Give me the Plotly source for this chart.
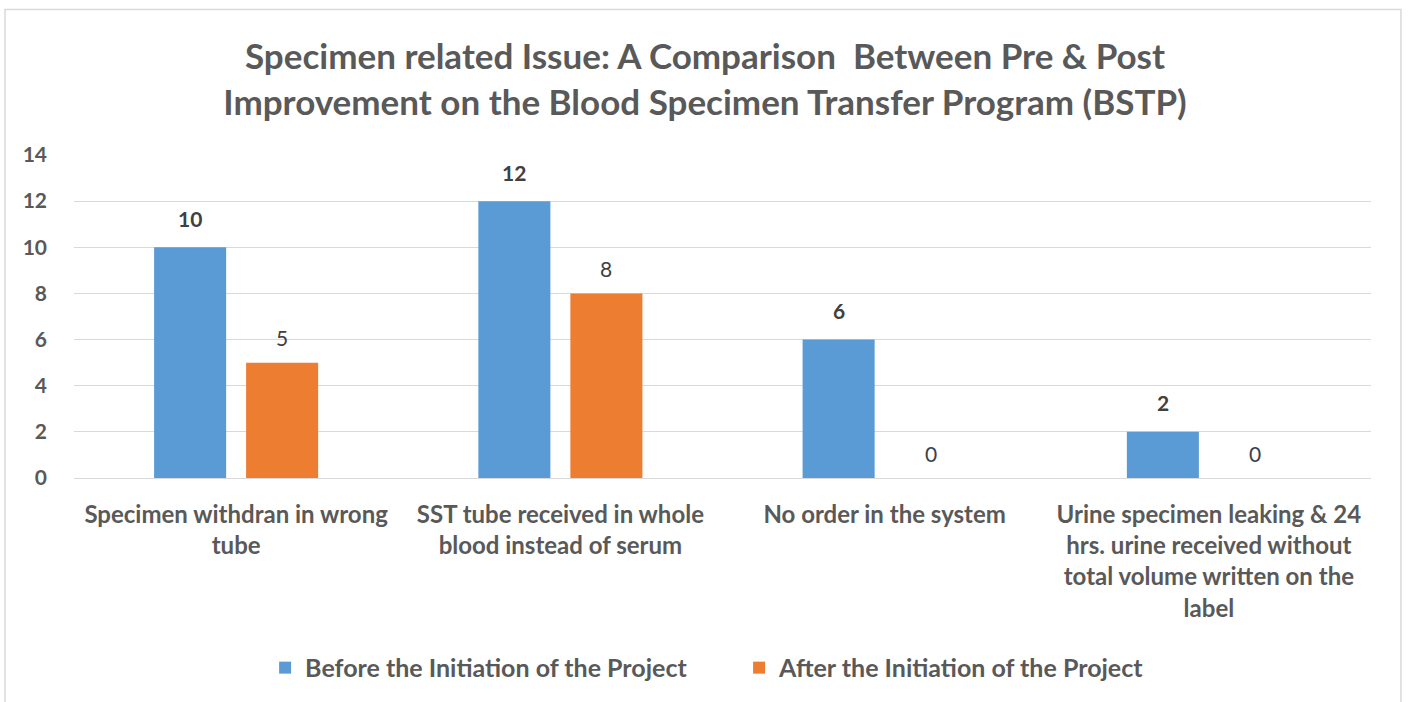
import plotly.graph_objects as go

categories = [
    "Specimen withdran in wrong<br>tube",
    "SST tube received in whole<br>blood instead of serum",
    "No order in the system",
    "Urine specimen leaking & 24<br>hrs. urine received without<br>total volume written on the<br>label",
]
before = [10, 12, 6, 2]
after = [5, 8, 0, 0]
series_names = ["Before the Initiation of the Project", "After the Initiation of the Project"]
y_ticks = [0, 2, 4, 6, 8, 10, 12, 14]
title_text = ("Specimen related Issue: A Comparison  Between Pre & Post<br>"
              "Improvement on the Blood Specimen Transfer Program (BSTP)")

BLUE = "#5B9BD5"
ORANGE = "#ED7D31"
GRAY = "#595959"
FONT = "Lato"

fig = go.Figure()
fig.add_trace(go.Bar(x=categories, y=before, name=f"<b>{series_names[0]}</b>", marker_color=BLUE,
                     marker_line_width=0))
fig.add_trace(go.Bar(x=categories, y=after, name=f"<b>{series_names[1]}</b>", marker_color=ORANGE,
                     marker_line_width=0))

annotations = []
for cat, b, a in zip(categories, before, after):
    annotations.append(dict(x=cat, y=b, xref="x", yref="y", text=f"<b>{b}</b>", showarrow=False,
                            xshift=-46, yshift=29, yanchor="middle",
                            font=dict(family=FONT, size=21, color="#404040")))
    annotations.append(dict(x=cat, y=a, xref="x", yref="y", text=f"{a}", showarrow=False,
                            xshift=46, yshift=25, yanchor="middle",
                            font=dict(family=FONT, size=21, color="#404040")))

fig.update_layout(
    width=1410, height=702,
    margin=dict(l=74, r=39, t=155, b=223),
    paper_bgcolor="white", plot_bgcolor="white",
    barmode="group", bargap=0.4325, bargroupgap=0.217,
    title=dict(text=f"<b>{title_text}</b>", x=0.5, xanchor="center", y=0.9017, yanchor="middle",
               font=dict(family=FONT, size=35, color=GRAY)),
    font=dict(family=FONT, color=GRAY),
    showlegend=True,
    legend=dict(orientation="h", x=0.5128, xanchor="center", y=-0.583, yanchor="middle",
                font=dict(family=FONT, size=25, color=GRAY),
                entrywidth=429, entrywidthmode="pixels",
                traceorder="normal"),
    annotations=annotations,
    shapes=[dict(type="rect", xref="paper", yref="paper", x0=-0.0532, x1=1.0231, y0=-1.2, y1=1.4506,
                 line=dict(color="#D9D9D9", width=1.5), fillcolor="rgba(0,0,0,0)", layer="below")],
)

fig.update_xaxes(showgrid=False, showline=False, ticks="", ticklabelstandoff=20,
                 tickfont=dict(family=FONT, size=24, color=GRAY),
                 tickvals=categories, ticktext=[f"<b>{c}</b>" for c in categories])
fig.update_yaxes(range=[0, 14], tickvals=y_ticks, ticktext=[f"<b>{v}</b>" for v in y_ticks],
                 showgrid=True, gridcolor="#D9D9D9", gridwidth=1.3, zeroline=True,
                 zerolinecolor="#D9D9D9", zerolinewidth=1.3, showline=False, ticks="",
                 ticklabelstandoff=26, tickfont=dict(family=FONT, size=21, color=GRAY))

fig.write_html("out.html", config={"displayModeBar": False},
               post_script="document.body.style.margin='0';")
